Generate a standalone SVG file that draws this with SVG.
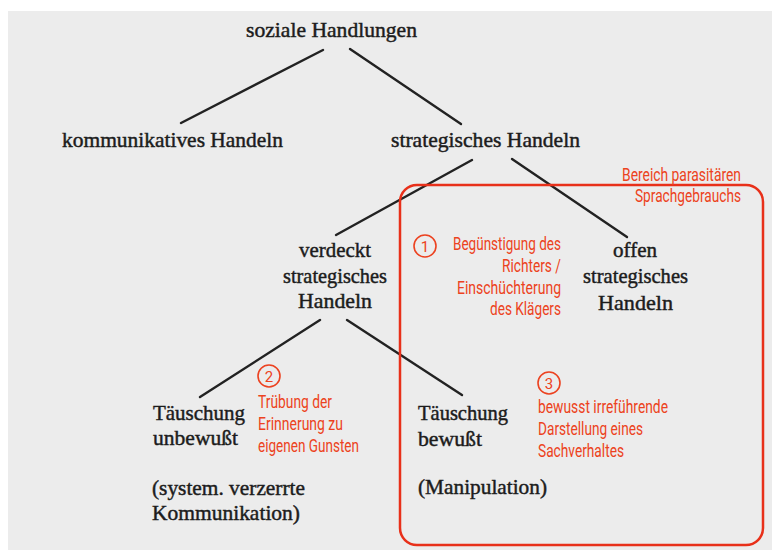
<svg xmlns="http://www.w3.org/2000/svg" width="772" height="550" viewBox="0 0 772 550">
<style>
.t{font-family:"Liberation Serif","Times New Roman",serif;font-size:21.5px;fill:#1c1c1c;stroke:#1c1c1c;stroke-width:0.45}
.r{font-family:Roboto,"Liberation Sans",sans-serif;font-size:17.5px;fill:#ec4220}
.n{font-family:Roboto,"Liberation Sans",sans-serif;font-size:15px;fill:#ec4220;text-anchor:middle}
.c{fill:none;stroke:#ec4220;stroke-width:1.6}
.ln{stroke:#222;stroke-width:2.4;stroke-linecap:round;fill:none}
</style>
<rect x="0" y="0" width="772" height="550" fill="#ffffff"/>
<rect x="8" y="11" width="764" height="539" fill="#ececec"/>
<g id="connectors">
<line class="ln" x1="323" y1="50" x2="181" y2="123"/>
<line class="ln" x1="350" y1="49" x2="461" y2="124"/>
<line class="ln" x1="472" y1="160" x2="336" y2="235"/>
<line class="ln" x1="512" y1="159" x2="627" y2="237"/>
<line class="ln" x1="320" y1="320" x2="200" y2="397"/>
<line class="ln" x1="347" y1="320" x2="462" y2="395"/>
</g>
<g id="region">
<rect x="400" y="185" width="363" height="360" rx="17" fill="none" stroke="#e8301a" stroke-width="2.5"/>
<text class="r" x="741" y="181" text-anchor="end" textLength="119" lengthAdjust="spacingAndGlyphs">Bereich parasitären</text>
<text class="r" x="741" y="202" text-anchor="end" textLength="106" lengthAdjust="spacingAndGlyphs">Sprachgebrauchs</text>
</g>
<g id="n-soziale"><text class="t" x="246" y="37" textLength="171" lengthAdjust="spacingAndGlyphs">soziale Handlungen</text></g>
<g id="n-kommunikativ"><text class="t" x="62" y="147" textLength="221" lengthAdjust="spacingAndGlyphs">kommunikatives Handeln</text></g>
<g id="n-strategisch"><text class="t" x="391" y="147" textLength="189" lengthAdjust="spacingAndGlyphs">strategisches Handeln</text></g>
<g id="n-verdeckt">
<text class="t" x="299" y="257" textLength="72" lengthAdjust="spacingAndGlyphs">verdeckt</text>
<text class="t" x="283" y="283" textLength="104" lengthAdjust="spacingAndGlyphs">strategisches</text>
<text class="t" x="298" y="308" textLength="74" lengthAdjust="spacingAndGlyphs">Handeln</text>
</g>
<g id="n-offen">
<text class="t" x="613" y="257" textLength="44" lengthAdjust="spacingAndGlyphs">offen</text>
<text class="t" x="583" y="283" textLength="105" lengthAdjust="spacingAndGlyphs">strategisches</text>
<text class="t" x="598" y="310" textLength="75" lengthAdjust="spacingAndGlyphs">Handeln</text>
</g>
<g id="n-unbewusst">
<text class="t" x="153" y="420" textLength="92" lengthAdjust="spacingAndGlyphs">Täuschung</text>
<text class="t" x="153" y="445" textLength="85" lengthAdjust="spacingAndGlyphs">unbewußt</text>
<text class="t" x="152" y="495" textLength="153" lengthAdjust="spacingAndGlyphs">(system. verzerrte</text>
<text class="t" x="152" y="520" textLength="148" lengthAdjust="spacingAndGlyphs">Kommunikation)</text>
</g>
<g id="n-bewusst">
<text class="t" x="418" y="420" textLength="90" lengthAdjust="spacingAndGlyphs">Täuschung</text>
<text class="t" x="418" y="446" textLength="64" lengthAdjust="spacingAndGlyphs">bewußt</text>
<text class="t" x="418" y="494" textLength="129" lengthAdjust="spacingAndGlyphs">(Manipulation)</text>
</g>
<g id="a1">
<circle class="c" cx="425" cy="246" r="11"/>
<text class="n" x="425" y="251.5">1</text>
<text class="r" x="561" y="250" text-anchor="end" textLength="108" lengthAdjust="spacingAndGlyphs">Begünstigung des</text>
<text class="r" x="561" y="272" text-anchor="end" textLength="59" lengthAdjust="spacingAndGlyphs">Richters /</text>
<text class="r" x="561" y="294" text-anchor="end" textLength="104" lengthAdjust="spacingAndGlyphs">Einschüchterung</text>
<text class="r" x="561" y="315" text-anchor="end" textLength="71" lengthAdjust="spacingAndGlyphs">des Klägers</text>
</g>
<g id="a2">
<circle class="c" cx="269" cy="376" r="11"/>
<text class="n" x="269" y="381.5">2</text>
<text class="r" x="258" y="408" textLength="74" lengthAdjust="spacingAndGlyphs">Trübung der</text>
<text class="r" x="258" y="430" textLength="85" lengthAdjust="spacingAndGlyphs">Erinnerung zu</text>
<text class="r" x="258" y="452" textLength="101" lengthAdjust="spacingAndGlyphs">eigenen Gunsten</text>
</g>
<g id="a3">
<circle class="c" cx="549" cy="383" r="11"/>
<text class="n" x="549" y="388.5">3</text>
<text class="r" x="538" y="413" textLength="130" lengthAdjust="spacingAndGlyphs">bewusst irreführende</text>
<text class="r" x="538" y="435" textLength="105" lengthAdjust="spacingAndGlyphs">Darstellung eines</text>
<text class="r" x="538" y="457" textLength="86" lengthAdjust="spacingAndGlyphs">Sachverhaltes</text>
</g>
</svg>
